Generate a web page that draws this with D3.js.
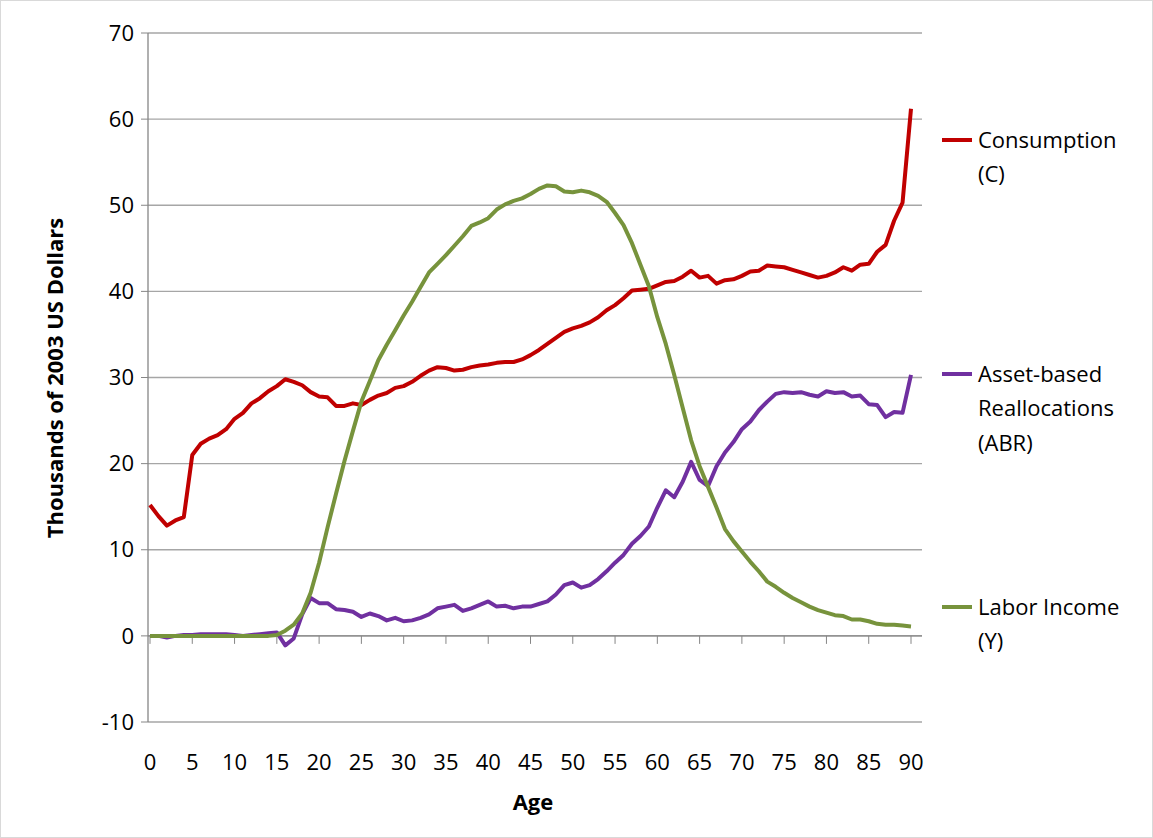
<!DOCTYPE html>
<html><head><meta charset="utf-8">
<script src="https://cdn.jsdelivr.net/npm/d3@7"></script>
<style>body{margin:0;background:#fff}text{font-family:"Open Sans",sans-serif}</style>
</head><body><svg id="c" width="1153" height="838"></svg>
<script>
const ages = d3.range(0, 91);
const consumption = [15.2,13.9,12.8,13.4,13.8,21.0,22.3,22.9,23.3,24.0,25.2,25.9,27.0,27.6,28.4,29.0,29.8,29.5,29.1,28.3,27.8,27.7,26.7,26.7,27.0,26.8,27.4,27.9,28.2,28.8,29.0,29.5,30.2,30.8,31.2,31.1,30.8,30.9,31.2,31.4,31.5,31.7,31.8,31.8,32.1,32.6,33.2,33.9,34.6,35.3,35.7,36.0,36.4,37.0,37.8,38.4,39.2,40.1,40.2,40.3,40.7,41.1,41.2,41.7,42.4,41.6,41.8,40.9,41.3,41.4,41.8,42.3,42.4,43.0,42.9,42.8,42.5,42.2,41.9,41.6,41.8,42.2,42.8,42.4,43.1,43.2,44.6,45.4,48.2,50.3,61.2];
const abr = [0,0,-0.2,0,0.1,0.1,0.2,0.2,0.2,0.2,0.1,0,0.1,0.2,0.3,0.4,-1.1,-0.3,2.5,4.4,3.8,3.8,3.1,3.0,2.8,2.2,2.6,2.3,1.8,2.1,1.7,1.8,2.1,2.5,3.2,3.4,3.6,2.9,3.2,3.6,4.0,3.4,3.5,3.2,3.4,3.4,3.7,4.0,4.8,5.9,6.2,5.6,5.9,6.6,7.5,8.5,9.4,10.7,11.6,12.7,14.9,16.9,16.1,17.9,20.2,18.1,17.4,19.7,21.3,22.5,24.0,24.9,26.2,27.2,28.1,28.3,28.2,28.3,28.0,27.8,28.4,28.2,28.3,27.8,27.9,26.9,26.8,25.4,26.0,25.9,30.3];
const labor = [0,0,0,0,0,0,0,0,0,0,0,0,0,0,0,0.1,0.6,1.3,2.6,5.0,8.5,12.6,16.5,20.3,23.8,27.2,29.6,32.0,33.8,35.5,37.2,38.8,40.5,42.2,43.2,44.2,45.3,46.4,47.6,48.0,48.5,49.5,50.1,50.5,50.8,51.3,51.9,52.3,52.2,51.6,51.5,51.7,51.5,51.1,50.4,49.1,47.7,45.6,43.1,40.6,37.0,33.9,30.3,26.5,22.7,19.7,17.3,14.9,12.4,11.0,9.8,8.6,7.5,6.3,5.7,5.0,4.4,3.9,3.4,3.0,2.7,2.4,2.3,1.9,1.9,1.7,1.4,1.3,1.3,1.2,1.1];
const xTicks = d3.range(0, 91, 5);
const yTicks = d3.range(-10, 71, 10);
const series = [
  {name:["Consumption","(C)"], values:consumption, color:"#c00000", ly:140},
  {name:["Asset-based","Reallocations","(ABR)"], values:abr, color:"#7030a0", ly:374},
  {name:["Labor Income","(Y)"], values:labor, color:"#77933c", ly:607}
];
const svg = d3.select("#c");
svg.append("rect").attr("x",0.5).attr("y",0.5).attr("width",1152).attr("height",837).attr("fill","none").attr("stroke","#d9d9d9");
const x = d3.scaleLinear().domain([0,90]).range([150,911]);
const y = d3.scaleLinear().domain([-10,70]).range([722,33]);
const L = 148, R = 922;
svg.append("g").selectAll("line").data(yTicks).join("line")
  .attr("x1",L).attr("x2",R).attr("y1",d=>y(d)).attr("y2",d=>y(d)).attr("stroke","#a6a6a6").attr("stroke-width",1.3);
svg.append("line").attr("x1",L).attr("x2",L).attr("y1",y(70)).attr("y2",y(-10)).attr("stroke","#868686").attr("stroke-width",1.3);
svg.append("g").selectAll("line").data(yTicks).join("line")
  .attr("x1",L-7).attr("x2",L).attr("y1",d=>y(d)).attr("y2",d=>y(d)).attr("stroke","#868686");
svg.append("line").attr("x1",L).attr("x2",R).attr("y1",y(0)).attr("y2",y(0)).attr("stroke","#868686").attr("stroke-width",1.3);
svg.append("g").selectAll("line").data(xTicks).join("line")
  .attr("x1",d=>x(d)).attr("x2",d=>x(d)).attr("y1",y(0)).attr("y2",y(0)+8).attr("stroke","#868686");
svg.append("g").selectAll("text").data(yTicks).join("text")
  .attr("x",L-14).attr("y",d=>y(d)).attr("dy","0.35em").attr("text-anchor","end").attr("font-size",22).text(d=>d);
svg.append("g").selectAll("text").data(xTicks).join("text")
  .attr("x",d=>x(d)).attr("y",770).attr("text-anchor","middle").attr("font-size",22).text(d=>d);
svg.append("text").attr("x",533).attr("y",810).attr("text-anchor","middle").attr("font-size",22).attr("font-weight","bold").text("Age");
svg.append("text").attr("transform","translate(63,378) rotate(-90)").attr("text-anchor","middle").attr("font-size",22).attr("font-weight","bold").text("Thousands of 2003 US Dollars");
const line = d3.line().x((d,i)=>x(ages[i])).y(d=>y(d));
series.forEach(s=>{
  svg.append("path").attr("d",line(s.values)).attr("fill","none").attr("stroke",s.color).attr("stroke-width",4).attr("stroke-linejoin","round");
  svg.append("line").attr("x1",942).attr("x2",972).attr("y1",s.ly).attr("y2",s.ly).attr("stroke",s.color).attr("stroke-width",4);
  s.name.forEach((t,j)=>svg.append("text").attr("x",978).attr("y",s.ly+j*34.5).attr("dy","0.35em").attr("font-size",22).text(t));
});
</script></body></html>
